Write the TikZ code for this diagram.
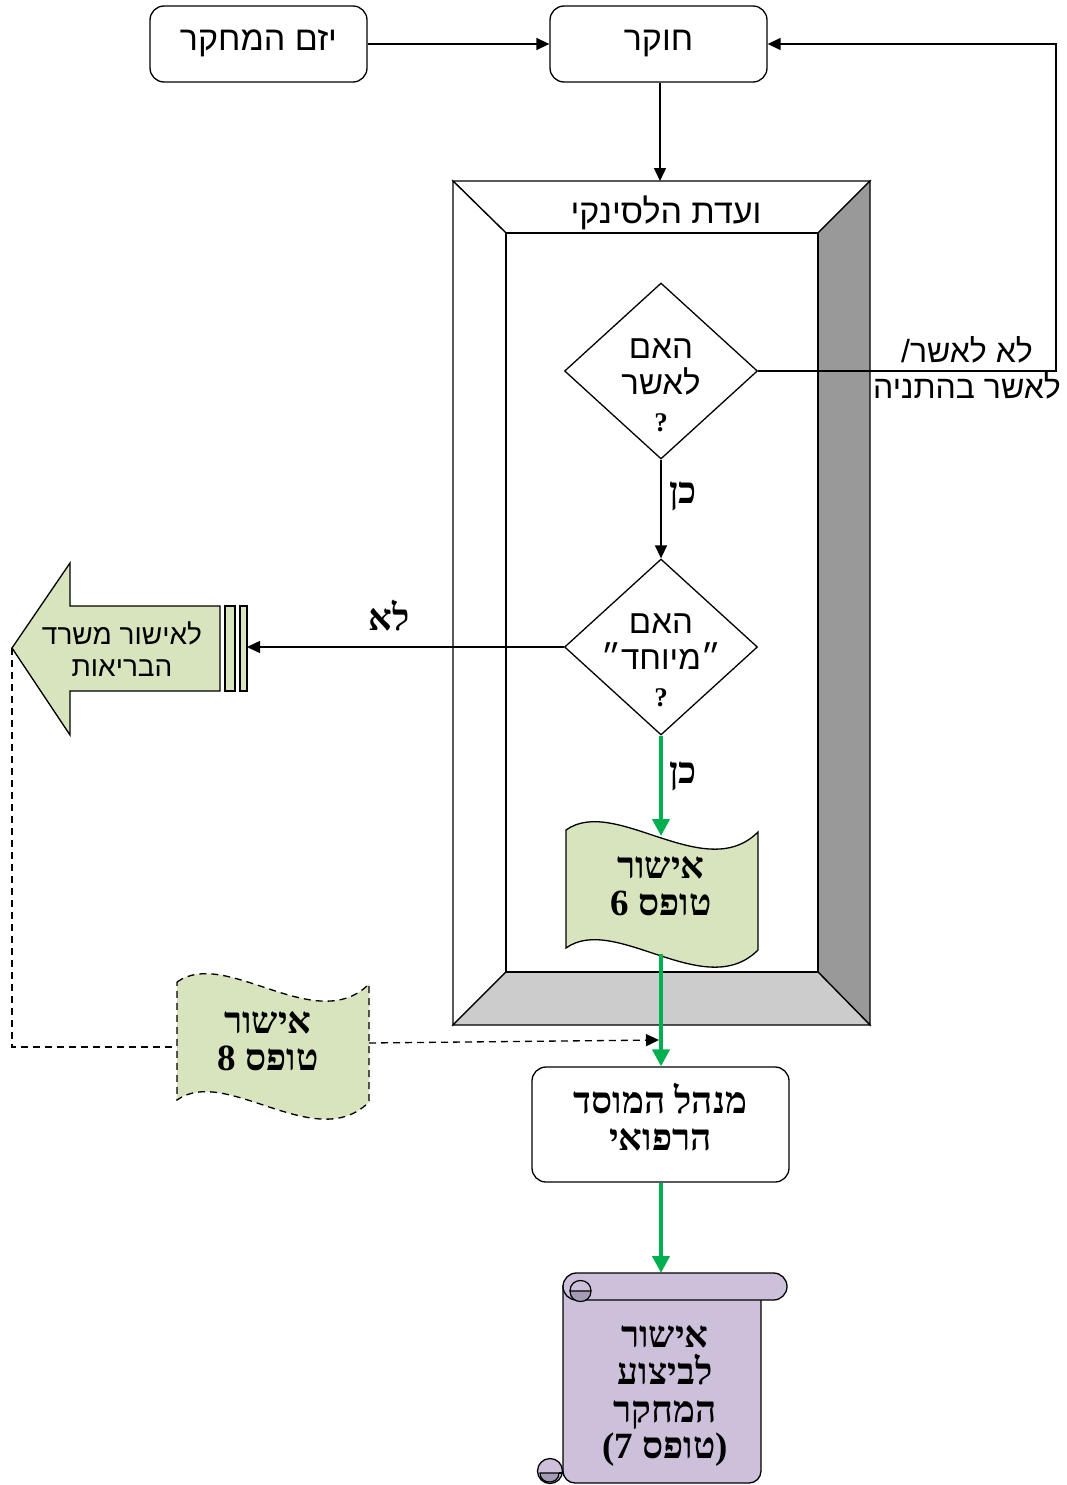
\documentclass[tikz,border=0pt]{standalone}
\usepackage{fontspec}
\setmainfont{Liberation Sans}
\newfontfamily\hebsans[Script=Hebrew]{Liberation Sans}
\newfontfamily\hebserif[Script=Hebrew]{Liberation Serif}
\newfontfamily\latserif{Liberation Serif}
\TeXXeTstate=1
\usetikzlibrary{arrows.meta,shapes.geometric}
\newcommand\RL[1]{\beginR#1\endR}
\newcommand\regf{\hebsans\fontsize{34}{40}\selectfont}
\newcommand\diaf{\hebsans\fontsize{33}{40}\selectfont}
\newcommand\fbf{\hebsans\fontsize{32}{38}\selectfont}
\newcommand\smallf{\hebsans\fontsize{28}{34}\selectfont}
\newcommand\boldf{\hebserif\bfseries\fontsize{37}{44}\selectfont}
\newcommand\latb{\latserif\bfseries}
\newcommand\qf{\latserif\bfseries\fontsize{27}{30}\selectfont}
\definecolor{grnfill}{HTML}{D7E4BD}
\definecolor{grn}{HTML}{00B050}
\definecolor{lav}{HTML}{CCC0DA}
\definecolor{lavd}{HTML}{A39CB4}
\definecolor{bevr}{HTML}{999999}
\definecolor{bevb}{HTML}{CCCCCC}
\tikzset{
  rbox/.style={draw, line width=1.3pt, rounded corners=14pt, align=center, inner sep=0pt},
  dia/.style={draw, diamond, line width=1.3pt, minimum width=193pt, minimum height=176pt, inner sep=0pt},
  reg/.style={font=\regf, inner sep=0pt, anchor=base},
  diat/.style={font=\diaf, inner sep=0pt, anchor=base},
  fbt/.style={font=\fbf, inner sep=0pt, anchor=base},
  smt/.style={font=\smallf, inner sep=0pt, anchor=base},
  bld/.style={font=\boldf, inner sep=0pt, anchor=base},
  qm/.style={font=\qf, inner sep=0pt, anchor=base},
  arr/.style={line width=1.5pt, -{Triangle[length=13pt,width=12pt]}},
  garr/.style={draw=grn, line width=4pt, -{Triangle[length=17pt,width=17pt]}},
  dsh/.style={line width=1.3pt, dash pattern=on 7pt off 5pt},
}
\begin{document}
\begin{tikzpicture}[x=1pt,y=-1pt]
\useasboundingbox (0,0) rectangle (1066,1485);

% top boxes
\node[rbox, minimum width=217pt, minimum height=76pt] (yezem) at (258.5,44) {};
\node[reg] (yezemt) at (258.5,51) {\RL{יזם המחקר}};
\node[rbox, minimum width=217pt, minimum height=76pt] (hoker) at (658.5,44) {};
\node[reg] (hokert) at (658.5,51) {\RL{חוקר}};

% frame
\coordinate (frametop) at (660,181);
\filldraw[fill=white, line width=1.3pt] (453,181) -- (870,181) -- (818,233) -- (506,233) -- cycle;
\filldraw[fill=white, line width=1.3pt] (453,181) -- (506,233) -- (506,972) -- (453,1025) -- cycle;
\filldraw[fill=bevr, line width=1.3pt] (870,181) -- (870,1025) -- (818,972) -- (818,233) -- cycle;
\filldraw[fill=bevb, line width=1.3pt] (453,1025) -- (870,1025) -- (818,972) -- (506,972) -- cycle;
\draw[line width=1.3pt] (506,233) rectangle (818,972);
\node[reg] (frametitle) at (666,223) {\RL{ועדת הלסינקי}};

% arrows on top
\draw[arr] (yezem.east) -- (hoker.west);
\draw[arr] (hoker.south -| frametop) -- (frametop);

% diamond 1
\node[dia] (d1) at (661,371) {};
\node[diat] (d1a) at (661,358) {\RL{האם}};
\node[diat] (d1b) at (661,394) {\RL{לאשר}};
\node[qm] (d1q) at (661,431) {?};

% feedback
\coordinate (fbr) at (1056,371);
\draw[arr] (d1.east) -- (fbr) -- (fbr |- hoker.east) -- (hoker.east);
\node[fbt] (fbl1) at (967,362) {/\RL{לא לאשר}};
\node[fbt] (fbl2) at (967,398) {\RL{לאשר בהתניה}};

% diamond 2
\node[dia] (d2) at (661,647) {};
\node[diat] (d2a) at (661,633) {\RL{האם}};
\node[diat] (d2b) at (661,669) {\RL{״מיוחד״}};
\node[qm] (d2q) at (661,706) {?};
\draw[arr] (d1.south) -- (d2.north);
\node[bld] (yes1) at (683,503) {\RL{כן}};

% left arrow shape
\filldraw[fill=grnfill, line width=1.3pt] (12,648) -- (70,563) -- (70,606) -- (220,606) -- (220,691) -- (70,691) -- (70,735) -- cycle;
\filldraw[fill=grnfill, line width=1.3pt] (225,606) rectangle (235,691);
\filldraw[fill=grnfill, line width=1.3pt] (240,606) rectangle (247,691);
\coordinate (larrow) at (247,647);
\coordinate (ltip) at (12,648);
\node[smt] (la1) at (122,644) {\RL{לאישור משרד}};
\node[smt] (la2) at (122,676) {\RL{הבריאות}};
\draw[arr] (d2.west) -- (larrow);
\node[bld] (no1) at (389,630) {\RL{לא}};

% tape 1
\filldraw[fill=grnfill, line width=1.3pt] (566,830) .. controls (615,795) and (705,885) .. (758,832) -- (758,950) .. controls (705,1003) and (615,913) .. (566,948) -- cycle;
\coordinate (t1top) at (661,836);
\coordinate (t1bot) at (661,954);
\node[bld] (t1a) at (661,878) {\RL{אישור}};
\node[bld] (t1b) at (661,915) {{\latb 6} \RL{טופס}};
\draw[garr] (d2.south) -- (t1top);
\node[bld] (yes2) at (683,783) {\RL{כן}};

% tape 2 (dashed)
\filldraw[fill=grnfill, dsh] (177,982) .. controls (226,947) and (316,1037) .. (369,984) -- (369,1102) .. controls (316,1155) and (226,1065) .. (177,1100) -- cycle;
\coordinate (t2l) at (177,1047);
\coordinate (t2r) at (369,1043);
\node[bld] (t2a) at (268,1033) {\RL{אישור}};
\node[bld] (t2b) at (268,1070) {{\latb 8} \RL{טופס}};
\coordinate (dcorner) at (12,1047);
\draw[dsh] (ltip) -- (dcorner) -- (t2l);

% manager box
\node[rbox, minimum width=257pt, minimum height=115pt] (menahel) at (660.5,1124.5) {};
\node[bld] (mt1) at (660.5,1113) {\RL{מנהל המוסד}};
\node[bld] (mt2) at (660.5,1150) {\RL{הרפואי}};
\draw[garr] (t1bot) -- (menahel.north -| t1bot);
\coordinate (dashend) at (659,1040);
\draw[dsh, -{Triangle[length=13pt,width=12pt]}] (t2r) -- (dashend);

% scroll
\coordinate (scrtop) at (661,1273);
\draw[garr] (menahel.south -| scrtop) -- (scrtop);
\filldraw[fill=lav, line width=1.3pt, rounded corners=12pt] (563,1285) -- (563,1483) -- (761,1483) -- (761,1299);
\filldraw[fill=lav, line width=1.3pt, rounded corners=13.5pt] (563,1273) rectangle (787,1300);
\filldraw[fill=lavd, line width=1.2pt] (570,1291) .. controls (570,1305) and (591,1305) .. (591,1291) -- cycle;
\draw[line width=1.2pt] (591,1291) .. controls (591,1277) and (570,1277) .. (570,1291);
\filldraw[fill=lav, line width=1.3pt] (550,1471) circle[radius=12.5];
\filldraw[fill=lavd, line width=1.2pt] (540,1473) .. controls (540,1485) and (559,1485) .. (559,1473) -- cycle;
\draw[line width=1.2pt] (559,1473) -- (563,1473);
\node[bld] (s1) at (665,1347) {\RL{אישור}};
\node[bld] (s2) at (665,1384) {\RL{לביצוע}};
\node[bld] (s3) at (665,1422) {\RL{המחקר}};
\node[bld] (s4) at (665,1458) {{\latb (7} \RL{טופס}{\latb )}};
\end{tikzpicture}
\end{document}
